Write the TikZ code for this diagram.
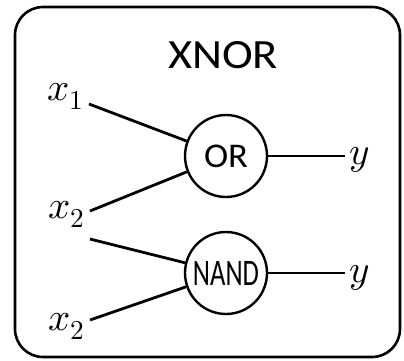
\documentclass[tikz,border=0pt]{standalone}
\usepackage{fontspec}
\usepackage{unicode-math}
\setmainfont{Carlito}
\setmathfont{Latin Modern Math}
\begin{document}
\begin{tikzpicture}[x=1pt,y=-1pt,
  wire/.style={line width=2.8pt},
  gate/.style={circle,draw,line width=2.4pt,minimum size=82pt,inner sep=0pt},
  var/.style={anchor=base west,inner sep=0pt,font=\fontsize{39}{41}\selectfont}]
  \useasboundingbox (0,0) rectangle (404,360);
  % outer frame
  \draw[line width=2.6pt,rounded corners=28pt] (15,7) rectangle (400,357);
  \node[inner sep=0pt] (ttl) at (223,55) {\resizebox{110pt}{27pt}{XNOR}};
  % gates
  \node[gate] (or) at (226,156) {\resizebox{44pt}{22.5pt}{OR}};
  \node[gate] (nand) at (226,273) {\resizebox{66pt}{24pt}{NAND}};
  % input labels
  \node[var] (x1) at (47,100) {$x_1$};
  \node[var] (x2a) at (48,218) {$x_2$};
  \node[var] (x2b) at (48,330) {$x_2$};
  % output labels
  \node[var] (y1) at (349,164) {$y$};
  \node[var] (y2) at (349,282) {$y$};
  % wire ends
  \coordinate (i1) at (89,104);
  \coordinate (i2) at (90,211);
  \coordinate (i3) at (90,239);
  \coordinate (i4) at (90,320);
  \coordinate (o1) at (345,156);
  \coordinate (o2) at (345,273);
  % wires
  \draw[wire] (i1) -- (or);
  \draw[wire] (i2) -- (or);
  \draw[wire] (i3) -- (nand);
  \draw[wire] (i4) -- (nand);
  \draw[wire] (or) -- (o1);
  \draw[wire] (nand) -- (o2);
\end{tikzpicture}
\end{document}
